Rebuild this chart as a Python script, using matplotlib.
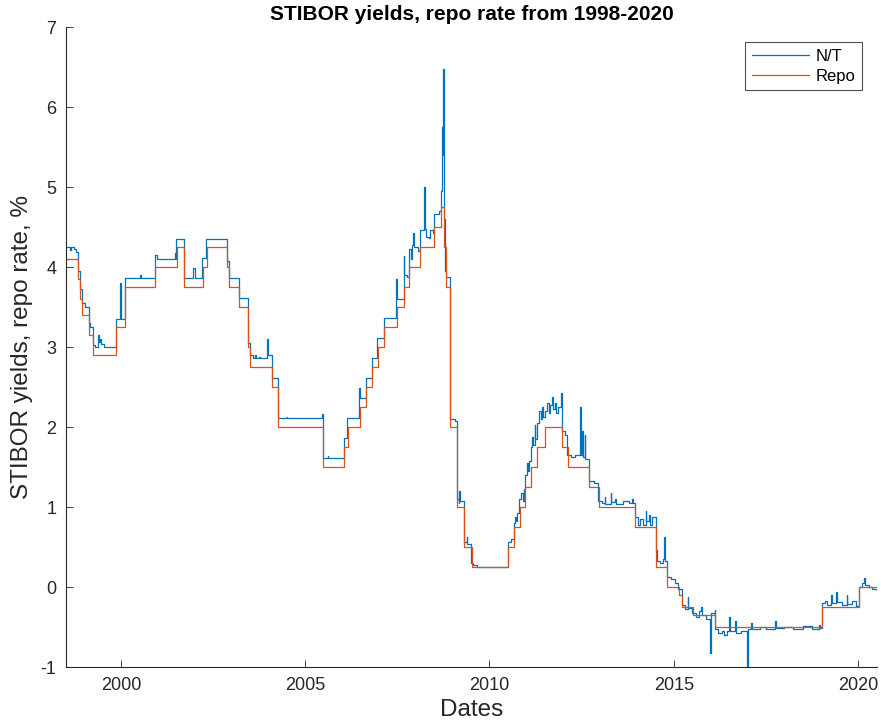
import matplotlib
matplotlib.use("Agg")
import matplotlib.pyplot as plt
import datetime as dt

plt.rcParams['font.family'] = ['Liberation Sans', 'DejaVu Sans']

# ---------------- data ----------------
repo_dates = [
    "1998-07-06", "1998-11-04", "1998-11-25", "1998-12-16", "1999-02-17", "1999-03-31",
    "1999-11-17", "2000-02-09", "2000-12-06", "2001-07-06", "2001-09-19", "2002-03-20",
    "2002-04-29", "2002-11-20", "2002-12-11", "2003-03-19", "2003-06-11", "2003-07-07",
    "2004-02-11", "2004-04-07", "2005-06-29", "2006-01-20", "2006-02-28", "2006-06-27",
    "2006-08-30", "2006-10-27", "2006-12-20", "2007-02-21", "2007-06-26", "2007-09-06",
    "2007-10-30", "2008-02-13", "2008-07-03", "2008-09-10", "2008-10-08", "2008-10-23",
    "2008-12-04", "2009-02-11", "2009-04-22", "2009-07-08", "2010-07-07", "2010-09-01",
    "2010-10-27", "2010-12-20", "2011-02-16", "2011-04-20", "2011-07-05", "2011-12-21",
    "2012-02-15", "2012-09-12", "2012-12-18", "2013-12-18", "2014-07-09", "2014-10-29",
    "2015-02-18", "2015-03-25", "2015-07-08", "2016-02-17", "2019-01-09", "2020-01-08",
    "2020-07-08",
]
repo_values = [
    4.10, 3.85, 3.60, 3.40, 3.15, 2.90,
    3.25, 3.75, 4.00, 4.25, 3.75, 4.00,
    4.25, 4.00, 3.75, 3.50, 3.00, 2.75,
    2.50, 2.00, 1.50, 1.75, 2.00, 2.25,
    2.50, 2.75, 3.00, 3.25, 3.50, 3.75,
    4.00, 4.25, 4.50, 4.75, 4.25, 3.75,
    2.00, 1.00, 0.50, 0.25, 0.50, 0.75,
    1.00, 1.25, 1.50, 1.75, 2.00, 1.75,
    1.50, 1.25, 1.00, 0.75, 0.25, 0.00,
    -0.10, -0.25, -0.35, -0.50, -0.25, 0.00,
    0.00,
]

nt_dates = [
    "1998-07-06", "1998-08-15", "1998-08-25", "1998-09-20", "1998-10-10", "1998-11-02",
    "1998-11-20", "1998-12-14", "1999-01-15", "1999-02-15", "1999-03-05", "1999-03-29",
    "1999-04-20", "1999-05-15", "1999-05-25", "1999-06-05", "1999-06-15", "1999-07-20",
    "1999-11-15", "1999-12-27", "2000-01-04", "2000-02-07", "2000-07-10", "2000-07-20",
    "2000-12-04", "2000-12-20", "2001-06-18", "2001-06-28", "2001-07-04", "2001-09-17",
    "2001-12-20", "2002-01-03", "2002-03-18", "2002-04-26", "2002-11-18", "2002-12-09",
    "2003-03-17", "2003-06-09", "2003-07-04", "2003-08-01", "2003-08-20", "2003-09-01",
    "2003-10-01", "2003-10-10", "2003-12-22", "2003-12-29", "2004-02-09", "2004-04-05",
    "2004-07-01", "2004-07-08", "2005-06-15", "2005-06-27", "2005-08-10", "2005-08-15",
    "2006-01-18", "2006-02-24", "2006-06-20", "2006-06-26", "2006-08-28", "2006-10-25",
    "2006-12-18", "2007-02-19", "2007-06-20", "2007-06-26", "2007-09-04", "2007-09-10",
    "2007-10-05", "2007-10-28", "2007-11-15", "2007-11-25", "2007-12-10", "2007-12-20",
    "2008-01-20", "2008-02-11", "2008-03-25", "2008-03-31", "2008-04-15", "2008-05-10",
    "2008-05-25", "2008-06-20", "2008-07-01", "2008-08-15", "2008-09-05", "2008-09-16",
    "2008-09-24", "2008-09-30", "2008-10-05", "2008-10-08", "2008-10-15", "2008-10-22",
    "2008-10-28", "2008-12-02", "2009-01-20", "2009-02-09", "2009-03-01", "2009-03-10",
    "2009-03-15", "2009-04-20", "2009-05-20", "2009-05-25", "2009-07-06", "2009-07-25",
    "2009-09-01", "2010-07-05", "2010-08-01", "2010-08-30", "2010-09-15", "2010-09-25",
    "2010-10-05", "2010-10-25", "2010-11-10", "2010-11-25", "2010-12-05", "2010-12-17",
    "2011-01-10", "2011-01-20", "2011-02-01", "2011-02-14", "2011-03-01", "2011-03-12",
    "2011-03-25", "2011-04-01", "2011-04-18", "2011-05-10", "2011-05-25", "2011-06-10",
    "2011-06-20", "2011-07-04", "2011-07-25", "2011-08-10", "2011-08-25", "2011-09-15",
    "2011-09-20", "2011-10-10", "2011-10-25", "2011-11-15", "2011-12-15", "2011-12-19",
    "2012-01-15", "2012-02-13", "2012-03-15", "2012-05-01", "2012-06-20", "2012-06-25",
    "2012-07-10", "2012-07-15", "2012-08-01", "2012-08-05", "2012-09-10", "2012-11-01",
    "2012-12-16", "2013-01-20", "2013-02-15", "2013-02-20", "2013-04-15", "2013-04-20",
    "2013-06-01", "2013-06-10", "2013-08-15", "2013-10-15", "2013-11-10", "2013-11-25",
    "2013-12-16", "2014-01-10", "2014-02-01", "2014-03-01", "2014-04-01", "2014-04-05",
    "2014-05-01", "2014-05-10", "2014-06-01", "2014-07-07", "2014-07-15", "2014-08-15",
    "2014-09-20", "2014-10-01", "2014-10-05", "2014-10-27", "2014-12-01", "2015-01-10",
    "2015-02-16", "2015-03-23", "2015-04-20", "2015-05-20", "2015-05-25", "2015-07-06",
    "2015-08-10", "2015-09-10", "2015-10-01", "2015-10-05", "2015-11-15", "2015-12-28",
    "2016-01-03", "2016-02-10", "2016-02-15", "2016-03-15", "2016-04-20", "2016-05-15",
    "2016-06-15", "2016-07-05", "2016-07-10", "2016-09-01", "2016-09-05", "2016-11-01",
    "2016-12-29", "2017-01-02", "2017-02-10", "2017-02-15", "2017-05-01", "2017-07-01",
    "2017-10-01", "2017-10-05", "2017-10-10", "2018-01-01", "2018-04-01", "2018-07-01",
    "2018-10-01", "2018-12-15", "2018-12-20", "2019-01-08", "2019-02-10", "2019-03-01",
    "2019-04-10", "2019-04-15", "2019-06-01", "2019-06-06", "2019-08-01", "2019-09-10",
    "2019-09-15", "2019-11-01", "2019-12-10", "2020-01-07", "2020-02-15", "2020-03-01",
    "2020-03-10", "2020-04-15", "2020-05-20", "2020-07-08",
]
nt_values = [
    4.25, 4.21, 4.25, 4.22, 4.19, 3.95,
    3.72, 3.55, 3.50, 3.30, 3.25, 3.02,
    3.00, 3.15, 3.06, 3.10, 3.04, 3.00,
    3.35, 3.80, 3.35, 3.86, 3.90, 3.86,
    4.15, 4.10, 4.17, 4.10, 4.35, 3.86,
    3.99, 3.86, 4.11, 4.35, 4.07, 3.86,
    3.61, 3.05, 2.90, 2.86, 2.90, 2.86,
    2.88, 2.86, 3.10, 2.90, 2.61, 2.11,
    2.13, 2.11, 2.16, 1.61, 1.64, 1.61,
    1.86, 2.11, 2.49, 2.36, 2.61, 2.86,
    3.11, 3.36, 3.85, 3.60, 4.14, 3.90,
    3.87, 4.22, 4.10, 4.28, 4.42, 4.25,
    4.20, 4.46, 5.00, 4.48, 4.38, 4.36,
    4.46, 4.42, 4.66, 4.70, 4.95, 5.75,
    5.40, 6.47, 5.50, 4.60, 4.30, 3.95,
    3.87, 2.10, 2.07, 1.10, 1.05, 1.20,
    1.08, 0.56, 0.62, 0.54, 0.30, 0.27,
    0.25, 0.56, 0.60, 0.80, 0.88, 0.82,
    0.92, 1.10, 1.18, 1.08, 1.22, 1.40,
    1.55, 1.45, 1.58, 1.75, 1.88, 1.78,
    2.03, 1.85, 2.05, 2.20, 2.10, 2.25,
    2.12, 2.20, 2.30, 2.18, 2.28, 2.38,
    2.22, 2.30, 2.18, 2.25, 2.42, 1.95,
    1.90, 1.65, 1.62, 1.65, 2.25, 1.65,
    1.95, 1.62, 1.90, 1.60, 1.33, 1.30,
    1.08, 1.05, 1.12, 1.04, 1.17, 1.06,
    1.10, 1.04, 1.08, 1.05, 1.10, 1.05,
    0.88, 0.78, 0.85, 0.78, 0.95, 0.82,
    0.90, 0.78, 0.88, 0.46, 0.32, 0.30,
    0.35, 0.62, 0.33, 0.12, 0.10, 0.05,
    -0.02, -0.22, -0.27, -0.12, -0.26, -0.32,
    -0.38, -0.30, -0.25, -0.35, -0.40, -0.83,
    -0.33, -0.29, -0.53, -0.57, -0.55, -0.60,
    -0.55, -0.38, -0.55, -0.43, -0.57, -0.55,
    -0.99, -0.52, -0.45, -0.52, -0.50, -0.53,
    -0.48, -0.43, -0.51, -0.50, -0.52, -0.49,
    -0.52, -0.48, -0.51, -0.20, -0.17, -0.22,
    -0.10, -0.20, -0.06, -0.19, -0.22, -0.10,
    -0.21, -0.17, -0.24, 0.00, 0.05, 0.11,
    0.02, 0.00, -0.02, -0.05,
]

x_tick_years = [2000, 2005, 2010, 2015, 2020]
y_ticks = [-1, 0, 1, 2, 3, 4, 5, 6, 7]
series_labels = ["N/T", "Repo"]

title_text = "STIBOR yields, repo rate from 1998-2020"
xlabel_text = "Dates"
ylabel_text = "STIBOR yields, repo rate, %"

# ---------------- plot ----------------
def to_dt(s):
    return dt.datetime.strptime(s, "%Y-%m-%d")

rd = [to_dt(s) for s in repo_dates]
nd = [to_dt(s) for s in nt_dates]

W, H = 881, 723
fig = plt.figure(figsize=(W / 100, H / 100), dpi=100)
ax = fig.add_axes([66 / W, 1 - 667 / H, (877 - 66) / W, 640 / H])

blue = "#0072BD"
orange = "#D95319"
axcol = "#262626"

ax.plot(nd, nt_values, drawstyle="steps-post", color=blue, lw=0.9, label=series_labels[0])
ax.plot(rd, repo_values, drawstyle="steps-post", color=orange, lw=0.9, label=series_labels[1])

ax.set_xlim(rd[0], rd[-1])
ax.set_ylim(-1, 7)
ax.set_yticks(y_ticks)
ax.set_yticklabels([str(v) for v in y_ticks])
ax.set_xticks([dt.datetime(y, 1, 1) for y in x_tick_years])
ax.set_xticklabels([str(y) for y in x_tick_years])

for s in ["top", "right"]:
    ax.spines[s].set_visible(False)
for s in ["left", "bottom"]:
    ax.spines[s].set_color(axcol)
    ax.spines[s].set_linewidth(0.8)

ax.tick_params(direction="in", length=5, width=0.6, colors=axcol, labelsize=13,
               top=False, right=False)
ax.tick_params(axis="y", pad=7)
ax.tick_params(axis="x", pad=7)

ax.set_title(title_text, fontsize=15, fontweight="bold", color="black", pad=5)
ax.set_xlabel(xlabel_text, fontsize=17.5, color=axcol, labelpad=4)
ax.set_ylabel(ylabel_text, fontsize=17.5, color=axcol, labelpad=5)

leg = ax.legend(loc="upper right", bbox_to_anchor=(862 / W, 1 - 42 / H),
                bbox_transform=fig.transFigure, borderaxespad=0,
                fancybox=False, frameon=True, fontsize=12,
                handlelength=3.4, handletextpad=0.4, labelspacing=0.3,
                borderpad=0.4)
leg.get_frame().set_edgecolor(axcol)
leg.get_frame().set_linewidth(0.8)

fig.savefig("out.png", dpi=100)
